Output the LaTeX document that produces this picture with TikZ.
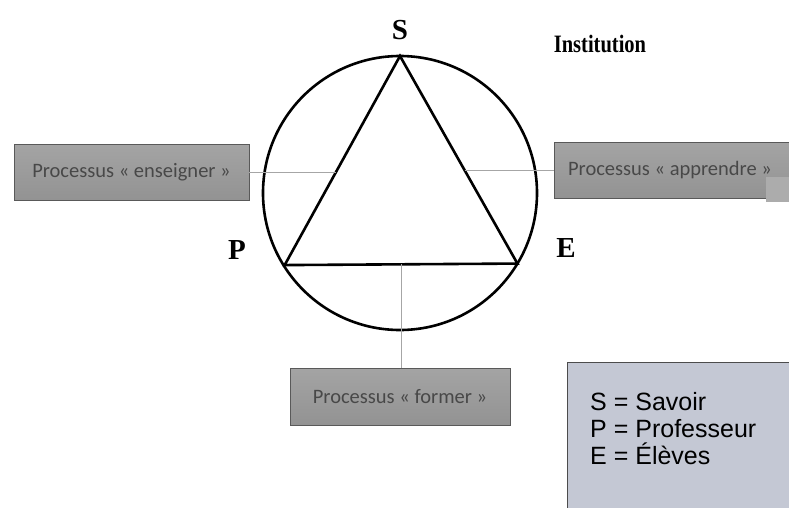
\documentclass[tikz,border=0pt]{standalone}
\usepackage{fontspec}
\setmainfont{Liberation Serif}
\newfontfamily\boxfont{Carlito}
\newfontfamily\legendfont{Liberation Sans}
\usetikzlibrary{calc}
\definecolor{procgray}{RGB}{156,156,156}
\definecolor{proctext}{RGB}{72,72,72}
\definecolor{legendfill}{RGB}{196,200,212}
\tikzset{
  procbox/.style={draw=gray!70!black, line width=0.6pt, top color=procgray!92, bottom color=procgray!94!black,
    text=proctext, font=\boxfont\fontsize{20.5}{24}\selectfont, minimum height=56, inner sep=0pt},
  vertex/.style={font=\fontsize{29}{30}\selectfont\bfseries},
  link/.style={draw=gray!70, line width=0.9pt}
}
\begin{document}
\begin{tikzpicture}[x=1pt, y=-1pt]
  \clip (0,0) rectangle (789,507);
  \fill[white] (0,0) rectangle (789,507);
  % cercle et triangle
  \coordinate (O) at (400,193);
  \draw[line width=2.6pt] (O) circle (137);
  \coordinate (S) at ($(O)+(-90:137)$);
  \coordinate (P) at ($(O)+(148:136)$);
  \coordinate (E) at ($(O)+(31:137)$);
  \draw[line width=2.6pt, line join=miter] (S) -- (P) -- (E) -- cycle;
  \node[vertex] (lS) at (400,30) {S};
  \node[vertex] (lP) at (237,250) {P};
  \node[vertex] (lE) at (566,248) {E};
  \node[font=\fontsize{25}{28}\selectfont\bfseries, xscale=0.82, transform shape] (inst) at (600,44) {Institution};
  % processus
  \node[procbox, minimum width=235] (ens) at (131.5,172) {Processus « enseigner »};
  \node[procbox, minimum width=240] (app) at (674,170) {\hspace*{-8pt}Processus « apprendre »};
  \node[procbox, minimum width=220, minimum height=57] (form) at (400,396.5) {Processus « former »};
  \fill[gray!65] (766,177) rectangle (789,202);
  \coordinate (a) at ($(S)!0.556!(P)$);
  \coordinate (b) at ($(S)!0.55!(E)$);
  \coordinate (c) at ($(P)!0.5!(E)$);
  \draw[link] (ens.east |- a) -- (a);
  \draw[link] (b) -- (app.west |- b);
  \draw[link] (c) -- (c |- form.north);
  % legende
  \node[draw=gray!60!black, line width=0.8pt, fill=legendfill, minimum width=240, minimum height=160,
    anchor=north west] (leg) at (567,362) {};
  \node[anchor=north west, align=left, inner sep=0pt, font=\legendfont\fontsize{25}{27}\selectfont]
    (legtxt) at (590,392) {S = Savoir\\P = Professeur\\E = Élèves};
\end{tikzpicture}
\end{document}
